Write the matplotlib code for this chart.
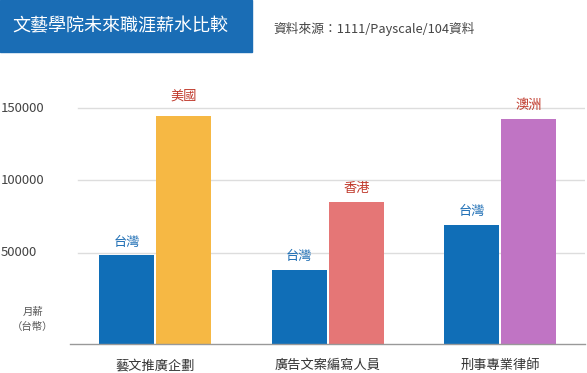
import matplotlib.pyplot as plt
from matplotlib.patches import Rectangle

plt.rcParams['font.family'] = ['Noto Sans CJK TC', 'DejaVu Sans']

# datos
categorias = ["藝文推廣企劃", "廣告文案編寫人員", "刑事專業律師"]
taiwan = [48000, 38000, 69000]
extranjero = [145000, 85000, 143000]
paises = ["美國", "香港", "澳洲"]
colores_ext = ["#F6B844", "#E57676", "#C074C4"]
yticks = [50000, 100000, 150000]

W, H = 587, 373
fig = plt.figure(figsize=(W / 100, H / 100), dpi=100)

# ejes en pixeles: x 70..585, y 80..344
ax = fig.add_axes([70 / W, (H - 344) / H, 515 / W, 264 / H])
ymin = -(344 - 324.5) / 72 * 50000
ymax = (324.5 - 80) / 72 * 50000
ax.set_ylim(ymin, ymax)
ax.set_xlim(-0.496, 2.493)

for y in yticks:
    ax.axhline(y, xmin=0.016, xmax=1, color="#dddddd", lw=1, zorder=0)
    fig.text(1 / W, 1 - (324.5 - y * 72 / 50000) / H, str(y), ha="left", va="center",
             fontsize=9.5, color="#444444")

ancho = 0.319
desp = 0.1655
for i in range(len(categorias)):
    ax.bar(i - desp, taiwan[i] - ymin, bottom=ymin, width=ancho, color="#106EB7", zorder=2)
    ax.bar(i + desp, extranjero[i] - ymin, bottom=ymin, width=ancho, color=colores_ext[i], zorder=2)
    ax.annotate("台灣", (i - desp, taiwan[i]), xytext=(0, 9.5), textcoords="offset points",
                ha="center", va="center", fontsize=9.5, color="#1F6FB5", fontweight="medium")
    off = 14 if paises[i] == "美國" else 9.5
    ax.annotate(paises[i], (i + desp, extranjero[i]), xytext=(0, off), textcoords="offset points",
                ha="center", va="center", fontsize=9.5, color="#C0392B", fontweight="medium")
    ax.annotate(categorias[i], (i, ymin), xytext=(0, -15.5), textcoords="offset points",
                ha="center", va="center", fontsize=9.5, color="#333333")

for s in ["top", "right", "left"]:
    ax.spines[s].set_visible(False)
ax.spines["bottom"].set_color("#999999")
ax.spines["bottom"].set_linewidth(1)
ax.set_xticks([])
ax.set_yticks([])

# etiqueta eje y
fig.text(33 / W, 1 - 312 / H, "月薪", ha="center", va="center", fontsize=7.5, color="#555555")
fig.text(33 / W, 1 - 327 / H, "（台幣）", ha="center", va="center", fontsize=7.5, color="#555555")

# titulo
fig.patches.append(Rectangle((0, 1 - 52 / H), 252 / W, 52 / H, transform=fig.transFigure,
                             color="#1A6DB5", zorder=0))
fig.text(120 / W, 1 - 26 / H, "文藝學院未來職涯薪水比較", ha="center", va="center",
         fontsize=13, color="white")
fig.text(273 / W, 1 - 29 / H, "資料來源：1111/Payscale/104資料", ha="left", va="center",
         fontsize=9.2, color="#444444")

plt.savefig("out.png")
